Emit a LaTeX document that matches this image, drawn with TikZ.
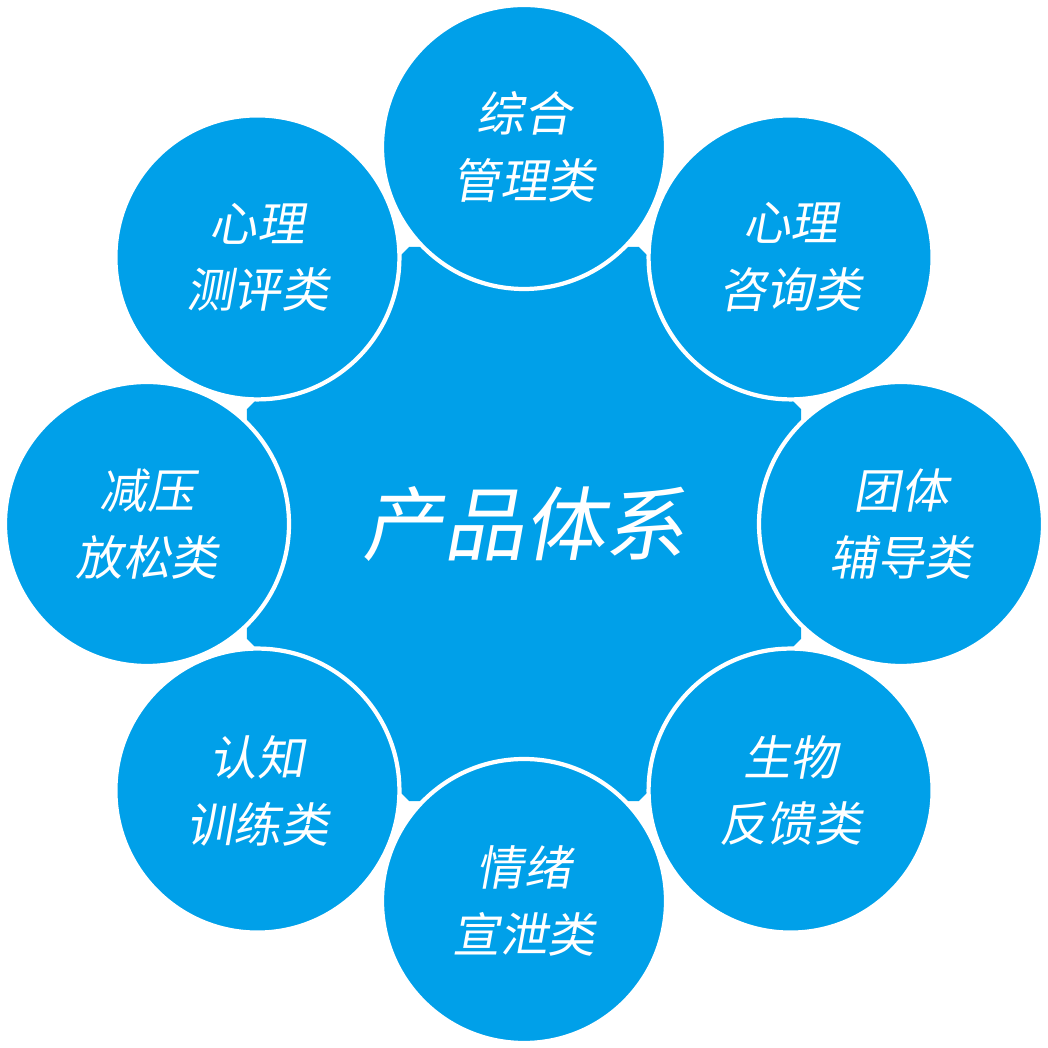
\documentclass[tikz,border=0pt]{standalone}
\usepackage{fontspec}
\newfontfamily\cjk[FakeSlant=0.18]{Noto Sans CJK SC}
\definecolor{skyblue}{HTML}{00A0E9}
\tikzset{
  petal/.style={circle, fill=skyblue, draw=white, line width=1.2pt,
    minimum size=2.84cm, inner sep=0pt, align=center, text=white,
    font=\cjk\fontsize{13.5pt}{19pt}\selectfont},
}
\begin{document}
\begin{tikzpicture}
  \useasboundingbox (0,0) rectangle (10.48,10.48);
  \coordinate (c) at (5.24,5.24);
  % central octagon
  \fill[skyblue] ([shift={(22.5:3.0)}]c)
    \foreach \a in {67.5,112.5,...,337.5} { -- ([shift={(\a:3.0)}]c) } -- cycle;
  \node[text=white, font=\cjk\fontsize{23pt}{28pt}\selectfont] (hub) at (c) {产品体系};
  \foreach \a/\n/\t in {90/top/{综合\\管理类}, 45/tr/{心理\\咨询类}, 0/rt/{团体\\辅导类},
      -45/br/{生物\\反馈类}, -90/bot/{情绪\\宣泄类}, -135/bl/{认知\\训练类},
      180/lf/{减压\\放松类}, 135/tl/{心理\\测评类}}
    \node[petal] (\n) at ([shift={(\a:3.77)}]c) {\t};
\end{tikzpicture}
\end{document}
